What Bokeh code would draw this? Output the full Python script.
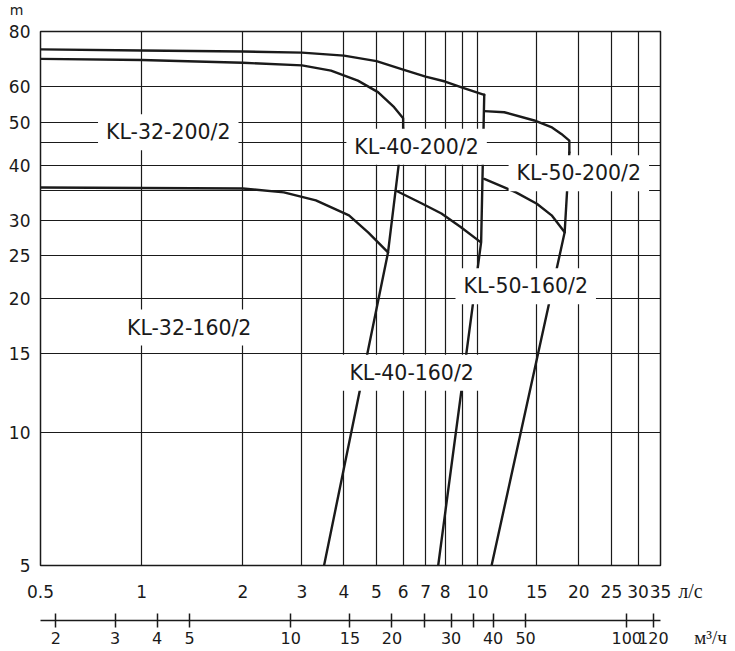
from bokeh.plotting import figure
from bokeh.models import Range1d, LogScale, LogAxis, FixedTicker, NumeralTickFormatter, Label
from bokeh.embed import file_html
from bokeh.resources import INLINE

# ---- axes / ticks ----
flow_ticks = [0.5, 1, 2, 3, 4, 5, 6, 7, 8, 9, 10, 15, 20, 25, 30, 35]
flow_unlabeled = [9]
head_ticks = [5, 10, 15, 20, 25, 30, 35, 40, 45, 50, 60, 80]
head_unlabeled = [35, 45]
m3h_ticks = [2, 3, 4, 5, 10, 15, 20, 25, 30, 35, 40, 50, 100, 120]
m3h_unlabeled = [25, 35]

# ---- pump curves (flow l/s, head m) ----
kl32_200_q = [0.5, 1.0, 2.0, 3.0, 3.66, 4.4, 5.05, 5.64, 6.0, 6.0]
kl32_200_h = [69.4, 69.0, 68.0, 67.1, 65.3, 62.0, 58.4, 54.0, 51.0, 48.4]
kl40_200_q = [0.5, 1, 2, 3, 4, 5, 6, 7, 8, 9, 10.46]
kl40_200_h = [72.9, 72.5, 72.1, 71.7, 70.6, 68.6, 65.6, 63.3, 61.7, 59.8, 57.6]
kl50_200_q = [10.46, 12.0, 14.74, 16.56, 17.74, 18.74, 18.74]
kl50_200_h = [52.9, 52.6, 50.4, 48.7, 47.0, 45.4, 42.7]
kl32_160_q = [0.5, 1.0, 2.0, 2.65, 3.3, 4.14, 4.72, 5.41]
kl32_160_h = [35.6, 35.5, 35.4, 34.7, 33.3, 30.8, 28.2, 25.4]
kl40_160_q = [5.72, 6.8, 7.8, 8.9, 10.2]
kl40_160_h = [35.0, 32.8, 31.1, 29.0, 26.8]
kl50_160_q = [10.46, 12.0, 13.0, 15.0, 16.6, 18.15]
kl50_160_h = [37.2, 35.6, 34.7, 32.7, 30.8, 28.2]

# ---- field boundary lines ----
edge_a_q = [3.49, 5.41, 6.0]
edge_a_h = [5, 25.4, 48.4]
edge_b_q = [7.63, 10.24, 10.46]
edge_b_h = [5, 26.8, 57.6]
edge_c_q = [11.0, 18.15, 18.74]
edge_c_h = [5, 28.2, 42.7]

# ---- labels ----
label_texts = ["KL-32-200/2", "KL-40-200/2", "KL-50-200/2",
               "KL-32-160/2", "KL-40-160/2", "KL-50-160/2"]
label_q = [1.2, 6.58, 20.0, 1.385, 6.36, 13.9]
label_h = [47.4, 44.0, 38.3, 17.2, 13.6, 21.3]

unit_texts = ["m", "л/с", "м³/ч"]

INK = "#1a1a1a"
FONT = "DejaVu Sans"

p = figure(x_axis_type="log", y_axis_type="log",
           x_range=Range1d(0.5, 35), y_range=Range1d(5, 80),
           width=735, height=651,
           frame_width=620, frame_height=534,
           min_border_left=40, min_border_right=75, min_border_top=31, min_border_bottom=0,
           output_backend="svg", toolbar_location=None,
           background_fill_color="white", border_fill_color="white",
           outline_line_color=INK, outline_line_width=1.5)

# primary x axis (l/s)
xa = p.xaxis[0]
xa.ticker = FixedTicker(ticks=flow_ticks)
xa.formatter = NumeralTickFormatter(format="0.[0]")
xa.major_label_overrides = {t: "" for t in flow_unlabeled}
xa.major_tick_in = 0
xa.major_tick_out = 0
xa.minor_tick_in = 0
xa.minor_tick_out = 0
xa.axis_line_color = None
xa.major_label_standoff = 19
xa.major_label_text_font = FONT
xa.major_label_text_font_size = "17px"
xa.major_label_text_color = INK
xa.axis_label = "\u00a0"
xa.axis_label_text_font_size = "10px"
xa.axis_label_standoff = 6

# y axis (m)
ya = p.yaxis[0]
ya.ticker = FixedTicker(ticks=head_ticks)
ya.formatter = NumeralTickFormatter(format="0")
ya.major_label_overrides = {t: "" for t in head_unlabeled}
ya.major_tick_in = 0
ya.major_tick_out = 0
ya.minor_tick_in = 0
ya.minor_tick_out = 0
ya.axis_line_color = None
ya.major_label_standoff = 10
ya.major_label_text_font = FONT
ya.major_label_text_font_size = "17px"
ya.major_label_text_color = INK

# grids
for g in (p.xgrid[0], p.ygrid[0]):
    g.grid_line_color = INK
    g.grid_line_width = 1.2
    g.grid_line_alpha = 1.0
    g.minor_grid_line_color = None

# secondary x axis (m3/h)
p.extra_x_ranges = {"q": Range1d(1.8, 126)}
p.extra_x_scales = {"q": LogScale()}
ax2 = LogAxis(x_range_name="q",
              ticker=FixedTicker(ticks=m3h_ticks),
              formatter=NumeralTickFormatter(format="0"),
              major_label_overrides={t: "" for t in m3h_unlabeled},
              axis_line_color=INK, axis_line_width=1.5,
              major_tick_in=7, major_tick_out=7,
              major_tick_line_color=INK, major_tick_line_width=1.5,
              minor_tick_in=0, minor_tick_out=0,
              major_label_standoff=4,
              major_label_text_font=FONT,
              major_label_text_font_size="16px",
              major_label_text_color=INK)
p.add_layout(ax2, "below")

# curves
line_kw = dict(line_color=INK, line_width=2.4, line_join="round", line_cap="round")
for q, h in [(kl32_200_q, kl32_200_h), (kl40_200_q, kl40_200_h), (kl50_200_q, kl50_200_h),
             (kl32_160_q, kl32_160_h), (kl40_160_q, kl40_160_h), (kl50_160_q, kl50_160_h),
             (edge_a_q, edge_a_h), (edge_b_q, edge_b_h), (edge_c_q, edge_c_h)]:
    p.line(q, h, **line_kw)

# curve labels with white boxes
for t, q, h in zip(label_texts, label_q, label_h):
    p.add_layout(Label(x=q, y=h, text=t, text_align="center", text_baseline="middle",
                       text_font=FONT, text_font_size="20.5px", text_color=INK,
                       background_fill_color="white", background_fill_alpha=1.0,
                       padding=dict(left=8, right=8, top=6, bottom=6)))

# unit labels placed in side panels (so they are not clipped to the frame)
unit_pos = [(16, 9), (690, 590), (710, 637)]
unit_fonts = [FONT, "Liberation Serif", "Liberation Serif"]
unit_sizes = ["14px", "20px", "19px"]
unit_panels = ["above", "right", "right"]
for t, (cx, cy), f, s, side in zip(unit_texts, unit_pos, unit_fonts, unit_sizes, unit_panels):
    p.add_layout(Label(x=cx, y=cy, x_units="canvas", y_units="canvas", text=t,
                       text_align="center", text_baseline="middle",
                       text_font=f, text_font_size=s, text_color=INK), side)

open("out.html", "w").write(file_html(p, INLINE))
